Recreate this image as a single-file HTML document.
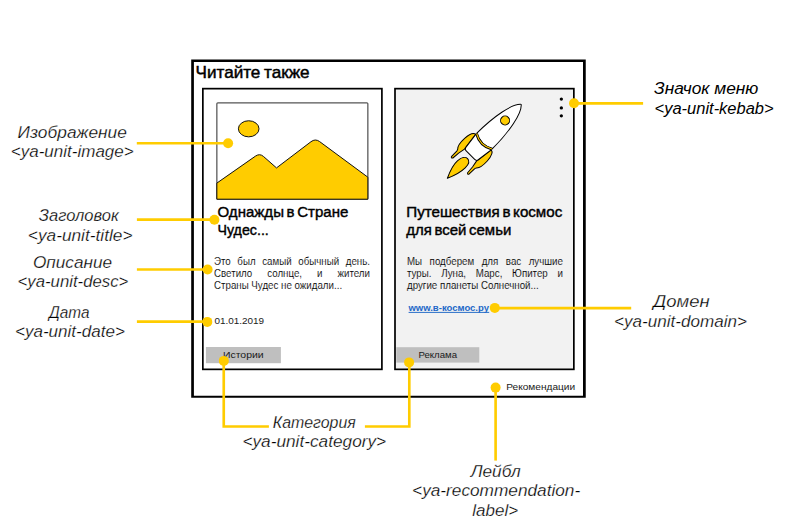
<!DOCTYPE html>
<html><head><meta charset="utf-8">
<style>
html,body{margin:0;padding:0;background:#fff;}
body{width:795px;height:530px;overflow:hidden;position:relative;font-family:"Liberation Sans",sans-serif;}
svg{position:absolute;left:0;top:0;}
.lab{font-family:"Liberation Sans",sans-serif;font-style:italic;font-size:16px;fill:#000;stroke:#fff;stroke-width:0.25px;}
.desc{position:absolute;font-family:"Liberation Sans",sans-serif;font-size:10.2px;line-height:12.05px;color:#000;transform:scaleX(0.955);transform-origin:0 0;}
.desc div{text-align:justify;text-align-last:justify;white-space:nowrap;height:12.05px;}
.desc div.l{text-align-last:left;}
</style></head>
<body>
<svg id="base" width="795" height="530" viewBox="0 0 795 530">
  <rect x="0" y="0" width="795" height="530" fill="#fff"/>
  <!-- cards -->
  <rect x="202.85" y="88.65" width="179.05" height="280.7" fill="#fff" stroke="#000" stroke-width="1.7"/>
  <rect x="395" y="88.65" width="178.85" height="280.7" fill="#f2f2f2" stroke="#000" stroke-width="1.7"/>
  <!-- outer frame -->
  <path fill="#000" fill-rule="evenodd" d="M191.2,59.6 H585.75 V397.8 H191.2 Z M193.9,61.95 V395.75 H583 V61.95 Z"/>

  <!-- image placeholder -->
  <rect x="216.85" y="102.85" width="151" height="96.35" rx="1" fill="#fff" stroke="#555" stroke-width="1.25"/>
  <ellipse cx="248.7" cy="128.8" rx="10.3" ry="8.05" fill="#ffcc00" stroke="#111" stroke-width="1"/>
  <path d="M216.85,183.1 L255.5,156.1 Q259.7,153.2 263.4,156.4 L276.5,167.9 L311,141.7 Q315.3,138.45 319.5,141.5 L367.85,177.2 L367.85,199.2 L216.85,199.2 Z" fill="#ffcc00" stroke="#111" stroke-width="1" stroke-linejoin="round"/>

  <!-- rocket -->
  <g transform="translate(521.2,104.4) rotate(45)" stroke="#000" stroke-width="1" stroke-linejoin="round">
    <!-- left fin -->
    <path d="M-11,53.3 C-13.5,53.6 -15.6,57 -16,64 C-16.3,70 -15.6,74.5 -13.2,76.6 L-12.6,78.2 L-12.4,86.3 Q-11.6,87.8 -10.4,86.2 L-9.8,78.7 L-8.5,71.7 Z" fill="#ffcc00"/>
    <!-- right fin -->
    <path d="M11,53.3 C13.5,53.6 15.6,57 16,64 C16.3,70 15.6,74.5 13.2,76.6 L12.6,78.2 L12.4,86.3 Q11.6,87.8 10.4,86.2 L9.8,78.7 L8.5,71.7 Z" fill="#ffcc00"/>
    <!-- lower body -->
    <path d="M-11,53 L-8.8,69.5 Q-8.5,71.8 -6,71.8 L6,71.8 Q8.5,71.8 8.8,69.5 L11,53 Z" fill="#fff"/>
    <!-- upper body -->
    <path d="M0,0 C7,6 11,28 11,52 Q0,57.5 -11,52 C-11,28 -7,6 0,0 Z" fill="#fff"/>
    <!-- band -->
    <path d="M-11,52.2 Q0,58.6 11,52.2" fill="none" stroke="#000" stroke-width="2.8"/>
    <path d="M-10.8,52.2 Q0,58.6 10.8,52.2" fill="none" stroke="#ffcc00" stroke-width="1.1" stroke-linecap="butt"/>
    <!-- window -->
    <circle cx="0" cy="22.8" r="4.5" fill="#ffcc00"/>
    <!-- flame -->
    <path d="M0,104.4 C-2.5,99 -5.6,91 -5.2,85 C-4.9,79.5 -2.5,76.2 0.5,76.3 C3.5,76.4 5.4,79.5 5.3,84.5 C5.2,91 2.5,99 0,104.4 Z" fill="#ffcc00"/>
  </g>

  <!-- kebab -->
  <circle cx="561.35" cy="99.1" r="1.65" fill="#000"/>
  <circle cx="561.35" cy="107.9" r="1.65" fill="#000"/>
  <circle cx="561.35" cy="115.8" r="1.65" fill="#000"/>

  <!-- tags -->
  <rect x="205.9" y="347" width="75" height="16.2" fill="#bfbfbf"/>
  <rect x="396.3" y="347.2" width="83" height="15.4" fill="#bfbfbf"/>

  <!-- heading -->
  <text x="195.6" y="77.5" font-family="Liberation Sans" font-size="16.2" fill="#000" stroke="#000" stroke-width="0.45" word-spacing="-1" textLength="114" lengthAdjust="spacingAndGlyphs">Читайте также</text>

  <!-- titles -->
  <g font-family="Liberation Sans" font-size="15.5" fill="#000" stroke="#000" stroke-width="0.42" word-spacing="-1.6">
    <text x="217.5" y="217.3" textLength="130.8" lengthAdjust="spacingAndGlyphs">Однажды в Стране</text>
    <text x="217.5" y="234.7" textLength="51.3" lengthAdjust="spacingAndGlyphs">Чудес...</text>
    <text x="406.3" y="217.2" textLength="156" lengthAdjust="spacingAndGlyphs">Путешествия в космос</text>
    <text x="406.3" y="234.7" textLength="105" lengthAdjust="spacingAndGlyphs">для всей семьи</text>
  </g>

  <!-- small text -->
  <g font-family="Liberation Sans" font-size="9.4" fill="#1a1a1a">
    <text x="214.4" y="323.6" textLength="49.7" lengthAdjust="spacingAndGlyphs">01.01.2019</text>
    <text x="222.9" y="358.1" textLength="40.8" lengthAdjust="spacingAndGlyphs">Истории</text>
    <text x="418.4" y="357.7" textLength="38.6" lengthAdjust="spacingAndGlyphs">Реклама</text>
    <text x="506.3" y="389.8" textLength="68.8" lengthAdjust="spacingAndGlyphs">Рекомендации</text>
  </g>
  <text x="408.4" y="310.6" font-family="Liberation Sans" font-weight="bold" font-size="8.4" fill="#2268c8" textLength="80.6" lengthAdjust="spacingAndGlyphs">www.в-космос.ру</text>
  <line x1="408.6" y1="312.4" x2="489.2" y2="312.4" stroke="#2a6fc9" stroke-width="1"/>

  <!-- annotation labels -->
  <g class="lab">
    <text x="72.25" y="137.8" text-anchor="middle" textLength="109.3" lengthAdjust="spacingAndGlyphs">Изображение</text>
    <text x="72.25" y="157.1" text-anchor="middle" textLength="122.9" lengthAdjust="spacingAndGlyphs">&lt;ya-unit-image&gt;</text>
    <text x="78.85" y="220.8" text-anchor="middle" textLength="80.1" lengthAdjust="spacingAndGlyphs">Заголовок</text>
    <text x="80.15" y="240.7" text-anchor="middle" textLength="104.7" lengthAdjust="spacingAndGlyphs">&lt;ya-unit-title&gt;</text>
    <text x="72.5" y="267.6" text-anchor="middle" textLength="79.2" lengthAdjust="spacingAndGlyphs">Описание</text>
    <text x="72.95" y="287" text-anchor="middle" textLength="110.7" lengthAdjust="spacingAndGlyphs">&lt;ya-unit-desc&gt;</text>
    <text x="69.25" y="317.6" text-anchor="middle" textLength="40.5" lengthAdjust="spacingAndGlyphs">Дата</text>
    <text x="69.95" y="336.5" text-anchor="middle" textLength="109.9" lengthAdjust="spacingAndGlyphs">&lt;ya-unit-date&gt;</text>
    <text x="654" y="94.4" style="stroke:none" textLength="104.4" lengthAdjust="spacingAndGlyphs">Значок меню</text>
    <text x="654.6" y="114.3" style="stroke:none" textLength="119" lengthAdjust="spacingAndGlyphs">&lt;ya-unit-kebab&gt;</text>
    <text x="681.5" y="306.7" text-anchor="middle" textLength="56.4" lengthAdjust="spacingAndGlyphs">Домен</text>
    <text x="680.5" y="327.2" text-anchor="middle" textLength="132.8" lengthAdjust="spacingAndGlyphs">&lt;ya-unit-domain&gt;</text>
    <text x="314.3" y="427.6" text-anchor="middle" textLength="83" lengthAdjust="spacingAndGlyphs">Категория</text>
    <text x="314.3" y="447.4" text-anchor="middle" textLength="143.8" lengthAdjust="spacingAndGlyphs">&lt;ya-unit-category&gt;</text>
    <text x="495.75" y="476.8" text-anchor="middle" textLength="50.1" lengthAdjust="spacingAndGlyphs">Лейбл</text>
    <text x="496.15" y="496.1" text-anchor="middle" textLength="168.1" lengthAdjust="spacingAndGlyphs">&lt;ya-recommendation-</text>
    <text x="495.2" y="515.7" text-anchor="middle" textLength="45.8" lengthAdjust="spacingAndGlyphs">label&gt;</text>
  </g>
</svg>

<div class="desc" style="left:214.4px;top:255.9px;width:163.3px;-webkit-text-stroke:0.1px #fff;">
  <div>Это был самый обычный день.</div>
  <div>Светило солнце, и жители</div>
  <div class="l">Страны Чудес не ожидали...</div>
</div>
<div class="desc" style="left:406.5px;top:255.9px;width:163.3px;-webkit-text-stroke:0.1px #f2f2f2;">
  <div>Мы подберем для вас лучшие</div>
  <div>туры. Луна, Марс, Юпитер и</div>
  <div class="l">другие планеты Солнечной...</div>
</div>

<svg id="over" width="795" height="530" viewBox="0 0 795 530">
  <g stroke="#ffcc00" stroke-width="2.65" fill="none">
    <line x1="136.8" y1="143.25" x2="228.1" y2="143.25"/>
    <line x1="136.9" y1="219.55" x2="214.4" y2="219.55"/>
    <line x1="136.9" y1="269.5" x2="207.6" y2="269.5"/>
    <line x1="136.9" y1="321.6" x2="207.3" y2="321.6"/>
    <line x1="574" y1="103.4" x2="643.1" y2="103.4"/>
    <line x1="494.8" y1="308.1" x2="631.2" y2="308.1"/>
    <polyline points="223.75,360.9 223.75,426.5 268.9,426.5"/>
    <polyline points="409.3,362.4 409.3,426.5 364.9,426.5"/>
    <line x1="495.6" y1="387.6" x2="495.6" y2="460.6"/>
  </g>
  <g fill="#ffcc00">
    <circle cx="228.1" cy="143.3" r="5"/>
    <circle cx="214.4" cy="219.7" r="5"/>
    <circle cx="207.6" cy="269.5" r="5"/>
    <circle cx="207.3" cy="321.9" r="5"/>
    <circle cx="574" cy="103.2" r="5"/>
    <circle cx="494.8" cy="307.9" r="5"/>
    <circle cx="223.8" cy="360.9" r="5"/>
    <circle cx="409.1" cy="362.4" r="5"/>
    <circle cx="495.6" cy="387.6" r="5"/>
  </g>
</svg>
</body></html>
